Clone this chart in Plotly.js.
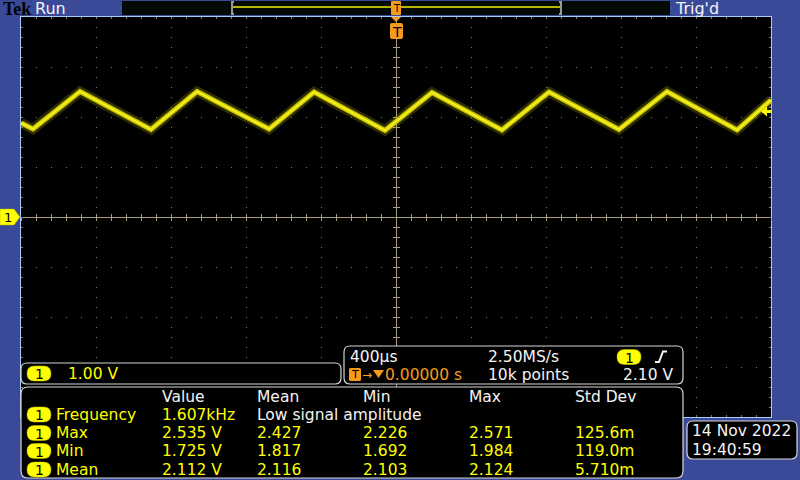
<!DOCTYPE html>
<html>
<head>
<meta charset="utf-8">
<script src="https://cdn.plot.ly/plotly-3.0.1.min.js"></script>
<style>html,body{margin:0;padding:0;background:#3b4a98;}#chart{width:800px;height:480px;}</style>
</head>
<body>
<div id="chart"></div>
<script>
const timeUs = [-2000, -1936, -1685, -1307, -1061, -677, -437, -59, 192, 565, 816, 1189, 1445, 1819, 2000];
const volts  = [1.88, 1.76, 2.51, 1.75, 2.51, 1.76, 2.50, 1.73, 2.49, 1.74, 2.50, 1.75, 2.51, 1.74, 2.34];

const chScale = '1.00 V';
const horizScale = '400µs';
const sampleRate = '2.50MS/s';
const trigPos = '0.00000 s';
const recLen = '10k points';
const trigLevel = '2.10 V';
const measHeaders = ['Value', 'Mean', 'Min', 'Max', 'Std Dev'];
const measNames = ['Frequency', 'Max', 'Min', 'Mean'];
const measValues = [
  ['1.607kHz', 'Low signal amplitude', '', '', ''],
  ['2.535 V', '2.427', '2.226', '2.571', '125.6m'],
  ['1.725 V', '1.817', '1.692', '1.984', '119.0m'],
  ['2.112 V', '2.116', '2.103', '2.124', '5.710m']
];
const dateText = '14 Nov 2022';
const timeText = '19:40:59';

// ---- layout helpers (pixel -> paper) ----
const L = 21, T = 17, W = 750, H = 400;
const px = x => ((x - L) / W).toFixed(5);
const py = y => ((T + H - y) / H).toFixed(5);
const pxn = x => (x - L) / W;
const pyn = y => (T + H - y) / H;

function rr(x0, y0, x1, y1, r) {
  return `M${px(x0 + r)},${py(y0)} L${px(x1 - r)},${py(y0)} Q${px(x1)},${py(y0)} ${px(x1)},${py(y0 + r)} ` +
         `L${px(x1)},${py(y1 - r)} Q${px(x1)},${py(y1)} ${px(x1 - r)},${py(y1)} ` +
         `L${px(x0 + r)},${py(y1)} Q${px(x0)},${py(y1)} ${px(x0)},${py(y1 - r)} ` +
         `L${px(x0)},${py(y0 + r)} Q${px(x0)},${py(y0)} ${px(x0 + r)},${py(y0)} Z`;
}
function poly(pts) {
  return pts.map((p, i) => (i ? 'L' : 'M') + px(p[0]) + ',' + py(p[1])).join(' ') + ' Z';
}
function openPath(pts) {
  return pts.map((p, i) => (i ? 'L' : 'M') + px(p[0]) + ',' + py(p[1])).join(' ');
}
const shapes = [];
function addShape(path, fill, lineColor, lineWidth) {
  shapes.push({type: 'path', xref: 'paper', yref: 'paper', layer: 'above', path: path,
    fillcolor: fill || 'rgba(0,0,0,0)', line: {color: lineColor || 'rgba(0,0,0,0)', width: lineWidth || 0}});
}
const annotations = [];
const FONT = 'DejaVu Sans, Verdana, sans-serif';
function txt(s, x, y, color, size, anchor, family) {
  annotations.push({text: s, xref: 'paper', yref: 'paper', x: pxn(x), y: pyn(y),
    xanchor: anchor || 'left', yanchor: 'middle', showarrow: false, borderpad: 0,
    font: {family: family || FONT, size: size || 15.5, color: color}});
}
const YEL = '#ffff00', WHITE = '#f4f4f4', ORANGE = '#f59a1c', PANEL = '#d6d6d6';
function pill(cx, cy) {
  addShape(rr(cx - 12, cy - 7.5, cx + 12, cy + 7.5, 7.5), YEL, '#c8c800', 0.5);
  txt('1', cx + 0.5, cy + 0.5, '#000', 14, 'center', 'DejaVu Sans Bold, DejaVu Sans, sans-serif');
}

// ---- top bar ----
txt('Tek', 2, 8.5, '#000', 18, 'left', 'Liberation Serif, serif');
annotations[annotations.length - 1].font.weight = 'bold';
txt('Run', 34, 8.5, WHITE, 16);
txt("Trig'd", 674, 8.5, WHITE, 16);
addShape(rr(122, 1, 670, 15, 0), '#030a03');
addShape(openPath([[234, 2], [232, 2], [232, 14], [234, 14]]), null, '#9a9a9a', 2);
addShape(openPath([[559, 2], [561, 2], [561, 14], [559, 14]]), null, '#9a9a9a', 2);
addShape(openPath([[233, 7], [560, 7]]), null, '#f0f000', 1.5);
addShape(rr(391, 1, 401, 15, 1), ORANGE);
txt('T', 396.5, 8.5, '#000', 10, 'center', 'DejaVu Sans Bold, DejaVu Sans, sans-serif');
addShape(poly([[391, 17], [401, 17], [396, 22]]), ORANGE);
addShape(rr(390, 23, 403, 39, 2), ORANGE);
txt('T', 396.5, 31.5, '#000', 14, 'center', 'DejaVu Sans Bold, DejaVu Sans, sans-serif');

// ---- channel ground marker & trigger level arrow ----
addShape(poly([[0, 209], [14, 209], [20, 217], [14, 225], [0, 225]]), YEL, '#b0b000', 0.5);
txt('1', 8, 217.5, '#000', 13, 'center', 'DejaVu Sans Bold, DejaVu Sans, sans-serif');
addShape(poly([[761, 111.5], [767, 106.5], [767, 116.5]]), YEL);
addShape(openPath([[766, 111.5], [771, 111.5]]), null, YEL, 3);

// ---- channel panel ----
addShape(rr(21, 363, 341, 384, 6), '#000', PANEL, 1.2);
pill(39, 373.5);
txt(chScale, 67, 373.5, YEL);

// ---- horizontal / trigger panel ----
addShape(rr(344, 346, 683, 384, 6), '#000', PANEL, 1.2);
txt(horizScale, 349, 357, WHITE);
txt(sampleRate, 487, 357, WHITE);
pill(629, 357);
addShape(openPath([[655, 362], [659, 362], [663, 351.5], [667, 351.5]]), null, WHITE, 2);
addShape(rr(349, 368, 361, 381, 1.5), ORANGE);
txt('T', 355, 374.5, '#000', 11, 'center', 'DejaVu Sans Bold, DejaVu Sans, sans-serif');
txt('→', 361, 374.5, ORANGE, 12);
addShape(poly([[373, 370], [384, 370], [378.5, 378]]), ORANGE);
txt(trigPos, 384, 374.5, ORANGE);
txt(recLen, 487, 374.5, WHITE);
txt(trigLevel, 674, 374.5, WHITE, 15.5, 'right');

// ---- measurement panel ----
addShape(rr(21, 387, 683, 478, 7), '#000', PANEL, 1.2);
const colX = [161, 256, 362, 468, 574];
const rowY = [414.5, 433, 451, 469.5];
measHeaders.forEach((h, i) => txt(h, colX[i], 396.5, WHITE));
measNames.forEach((n, r) => {
  pill(39, rowY[r]);
  txt(n, 55, rowY[r], YEL);
  measValues[r].forEach((v, c) => {
    if (!v) return;
    const col = (r === 0 && c === 1) ? WHITE : YEL;
    txt(v, colX[c], rowY[r], col);
  });
});

// ---- date panel ----
addShape(rr(687, 421, 797, 459, 6), '#000', PANEL, 1.2);
txt(dateText, 691, 431.5, WHITE);
txt(timeText, 691, 449.5, WHITE);

// ---- axes ----
const GRID = '#837d68', CENTER = '#a69c7e', BORDER = '#a6cdfa';
const xRange = [-2000, 2000], yRange = [-4, 4];
const baseX = {range: xRange, fixedrange: true, showticklabels: false};
const baseY = {range: yRange, fixedrange: true, showticklabels: false};
const layout = {
  width: 800, height: 480,
  margin: {l: L, r: 800 - L - W, t: T, b: 480 - T - H, pad: 0},
  paper_bgcolor: '#3b4a98', plot_bgcolor: '#000000',
  showlegend: false,
  xaxis: Object.assign({}, baseX, {
    dtick: 400, tick0: 0, showgrid: true, gridcolor: GRID, gridwidth: 1, griddash: '1px,9px',
    zeroline: true, zerolinecolor: CENTER, zerolinewidth: 1,
    showline: true, linecolor: BORDER, linewidth: 1, mirror: 'ticks',
    ticks: 'inside', ticklen: 2, tickcolor: GRID,
    minor: {dtick: 80, ticks: 'inside', ticklen: 2, tickcolor: GRID, showgrid: false}
  }),
  yaxis: Object.assign({}, baseY, {
    dtick: 1, tick0: 0, showgrid: true, gridcolor: GRID, gridwidth: 1, griddash: '1px,14px',
    zeroline: true, zerolinecolor: CENTER, zerolinewidth: 1,
    showline: true, linecolor: BORDER, linewidth: 1, mirror: 'ticks',
    ticks: 'inside', ticklen: 2, tickcolor: GRID,
    minor: {dtick: 0.2, ticks: 'inside', ticklen: 2, tickcolor: GRID, showgrid: false}
  }),
  xaxis2: Object.assign({}, baseX, {overlaying: 'x', anchor: 'free', position: 0.5, showgrid: false, zeroline: false,
    showline: false, ticks: 'outside', ticklen: 3, dtick: 80, tick0: 0, tickcolor: CENTER}),
  yaxis2: Object.assign({}, baseY, {overlaying: 'y', anchor: 'free', position: 0.5, showgrid: false, zeroline: false,
    showline: false, ticks: 'outside', ticklen: 3, dtick: 0.2, tick0: 0, tickcolor: CENTER}),
  xaxis3: Object.assign({}, baseX, {overlaying: 'x', anchor: 'free', position: 0.5, showgrid: false, zeroline: false,
    showline: false, ticks: 'inside', ticklen: 3, dtick: 80, tick0: 0, tickcolor: CENTER}),
  yaxis3: Object.assign({}, baseY, {overlaying: 'y', anchor: 'free', position: 0.5, showgrid: false, zeroline: false,
    showline: false, ticks: 'inside', ticklen: 3, dtick: 0.2, tick0: 0, tickcolor: CENTER}),
  shapes: shapes,
  annotations: annotations
};

const traces = [
  {x: timeUs, y: volts, mode: 'lines', xaxis: 'x', yaxis: 'y', hoverinfo: 'skip',
   line: {color: 'rgba(150,150,0,0.3)', width: 10}},
  {x: timeUs, y: volts, mode: 'lines', xaxis: 'x2', yaxis: 'y2', hoverinfo: 'skip',
   line: {color: '#c9c400', width: 5}},
  {x: timeUs, y: volts, mode: 'lines', xaxis: 'x3', yaxis: 'y3', hoverinfo: 'skip',
   line: {color: '#f5f020', width: 2.2}}
];

Plotly.newPlot('chart', traces, layout, {staticPlot: true, displayModeBar: false});
</script>
</body>
</html>
